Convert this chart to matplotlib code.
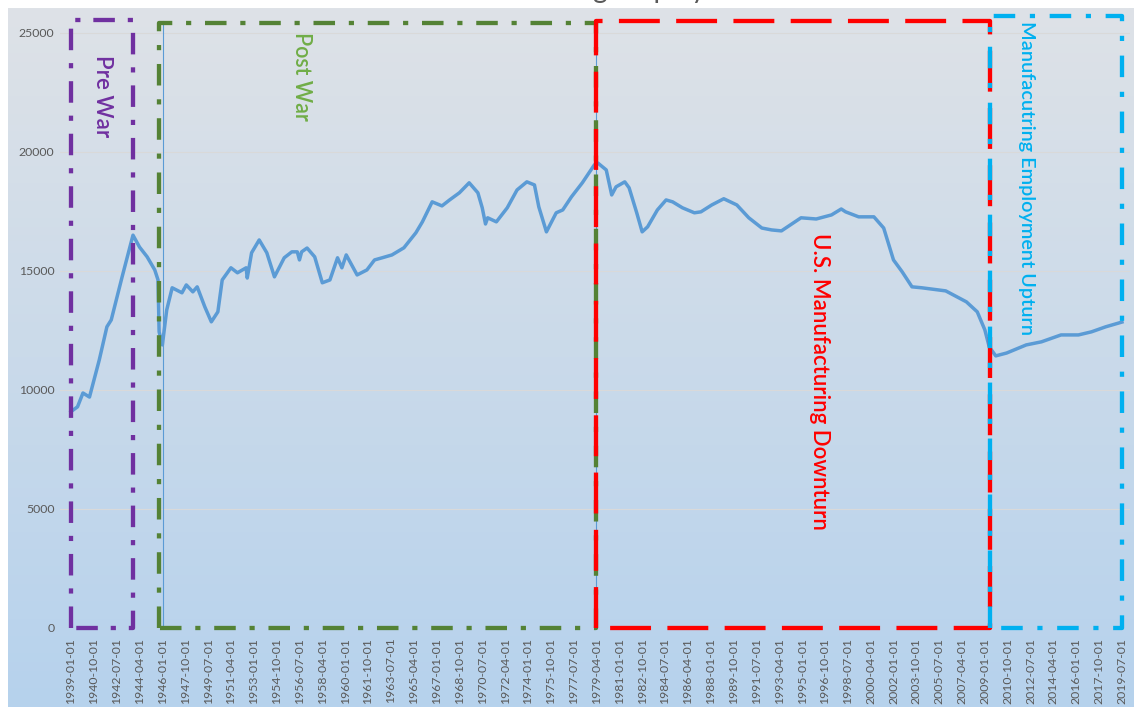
import numpy as np
import matplotlib
matplotlib.use("Agg")
import matplotlib.pyplot as plt

plt.rcParams['font.family'] = ['Lato', 'DejaVu Sans']

# manufacturing employment (thousands) at key months
dates = ["1939-01", "1939-07", "1939-12", "1940-06", "1941-03", "1941-10", "1942-02",
         "1942-12", "1943-10", "1944-04", "1944-11", "1945-06", "1945-09", "1945-10",
         "1946-01", "1946-05", "1946-10", "1947-07", "1947-11", "1948-05", "1948-09",
         "1949-04", "1949-10", "1950-04", "1950-08", "1951-04", "1951-10", "1952-06",
         "1952-07", "1952-11", "1953-06", "1954-01", "1954-08", "1955-05", "1955-12",
         "1956-05", "1956-07", "1956-09", "1957-02", "1957-09", "1958-04", "1958-11",
         "1959-06", "1959-10", "1960-02", "1960-12", "1961-09", "1962-04", "1962-11",
         "1963-08", "1964-07", "1965-06", "1965-12", "1966-09", "1967-06", "1968-01",
         "1968-10", "1969-07", "1970-03", "1970-07", "1970-10", "1970-12", "1971-08",
         "1972-06", "1973-03", "1973-12", "1974-07", "1974-11", "1975-06", "1976-03",
         "1976-09", "1977-05", "1978-03", "1979-02", "1979-05", "1980-01", "1980-06",
         "1980-10", "1981-06", "1981-10", "1982-05", "1982-10", "1983-03", "1983-12",
         "1984-08", "1985-02", "1985-11", "1986-10", "1987-04", "1988-02", "1989-01",
         "1990-01", "1990-12", "1991-12", "1992-09", "1993-06", "1994-12", "1996-02",
         "1997-04", "1998-01", "1998-05", "1999-05", "2000-07", "2001-04", "2002-01",
         "2002-09", "2003-06", "2004-03", "2006-01", "2007-08", "2008-06", "2009-01",
         "2009-05", "2009-11", "2010-09", "2012-03", "2013-05", "2014-11", "2016-03",
         "2017-03", "2018-04", "2019-04", "2019-07"]
employment = [9090, 9290, 9870, 9700, 11260, 12650, 12940,
              14750, 16500, 16000, 15590, 15040, 14620, 12440,
              11890, 13360, 14290, 14080, 14410, 14120, 14330,
              13490, 12860, 13280, 14620, 15130, 14920, 15130,
              14700, 15760, 16300, 15760, 14750, 15550, 15800,
              15800, 15460, 15800, 15960, 15590, 14500, 14620,
              15550, 15130, 15670, 14830, 15040, 15460, 15550,
              15670, 15970, 16600, 17060, 17900, 17730, 17980,
              18280, 18700, 18280, 17650, 16970, 17230, 17060,
              17650, 18400, 18740, 18610, 17690, 16640, 17440,
              17560, 18110, 18700, 19450, 19540, 19240, 18190,
              18530, 18740, 18490, 17440, 16640, 16850, 17560,
              17980, 17900, 17650, 17440, 17480, 17770, 18030,
              17770, 17230, 16800, 16720, 16680, 17230, 17180,
              17350, 17600, 17480, 17270, 17270, 16800, 15460,
              14960, 14330, 14290, 14160, 13700, 13280, 12520,
              11810, 11430, 11550, 11890, 12020, 12310, 12310,
              12440, 12650, 12810, 12850]

first_month = "1939-01"
last_month = "2019-07"
tick_step = 21

era_labels = ["Pre War", "Post War", "U.S. Manufacturing Downturn",
              "Manufacutring Employment Upturn"]
era_start = ["1939-01", "1945-10", "1979-04", "2009-06"]
era_end = ["1943-10", "1979-04", "2009-06", "2019-07"]


def month_index(s):
    y, m = s.split("-")[:2]
    y0, m0 = first_month.split("-")
    return (int(y) - int(y0)) * 12 + int(m) - int(m0)


x = np.array([month_index(d) for d in dates])
n_months = month_index(last_month)

fig = plt.figure(figsize=(11.34, 7.07), dpi=100)

# gradient background
bg = fig.add_axes([8 / 1134, 0, 1 - 8 / 1134, 1 - 8 / 707])
grad = np.linspace(0, 1, 256)[:, None, None]
top = np.array([222, 226, 231]) / 255
bot = np.array([182, 210, 237]) / 255
bg.imshow(top + (bot - top) * grad, aspect='auto', extent=[0, 1, 0, 1])
bg.set_axis_off()

ax = fig.add_axes([60 / 1134, 79 / 707, 1070 / 1134, 619 / 707])
ax.patch.set_alpha(0)
ax.set_xlim(-10.1, n_months + 7.4)
ax.set_ylim(0, 26000)

ax.set_yticks(range(0, 25001, 5000))
ax.yaxis.grid(True, color='#D9D9D9', lw=0.8)
ax.set_axisbelow(True)
ticks = list(range(0, n_months + 1, tick_step))
labels = []
for t in ticks:
    y = 1939 + t // 12
    m = t % 12 + 1
    labels.append(f"{y}-{m:02d}-01")
ax.set_xticks(ticks)
ax.set_xticklabels(labels, rotation=90)
ax.tick_params(length=0, colors='#595959', labelsize=8.8)
ax.tick_params(axis='x', pad=7)
ax.tick_params(axis='y', pad=4)
for sp in ax.spines.values():
    sp.set_visible(False)

ax.plot(x, employment, color='#5B9BD5', lw=2.5, solid_joinstyle='round', zorder=3)

# thin connector lines
for d in ["1946-02", "1979-04"]:
    ax.plot([month_index(d)] * 2, [0, 25500], color='#5B9BD5', lw=0.8,
            zorder=2, clip_on=False)

colors = ['#7030A0', '#548235', '#FF0000', '#00B0F0']
styles = [(0, (5, 3, 1.2, 3)), (0, (5, 3.2, 1.2, 3.2)), (0, (9.5, 3.8)),
          (0, (5, 3.4, 1.2, 3.4))]
tops = [25550, 25420, 25500, 25710]
for i in range(4):
    x0 = month_index(era_start[i])
    x1 = month_index(era_end[i])
    ax.plot([x0, x0, x1, x1, x0], [0, tops[i], tops[i], 0, 0],
            color=colors[i], lw=3.1, ls=styles[i], zorder=4, clip_on=False)

text_colors = ['#7030A0', '#70AD47', '#FF0000', '#00B0F0']
text_x = ["1941-06", "1956-09", "1996-05", "2012-03"]
text_top = [24050, 25050, 16600, 25500]
text_size = [16, 15.5, 16, 14.3]
for i in range(4):
    ax.text(month_index(text_x[i]), text_top[i], era_labels[i], rotation=-90,
            ha='center', va='top', color=text_colors[i], fontsize=text_size[i],
            fontweight='semibold', zorder=5)

# title, cropped by top of image
fig.text(570 / 1134, 1 + 2 / 707, "U.S. Manufacturing Employment",
         ha='center', va='baseline', fontsize=20, color='#595959')

fig.savefig("out.png", dpi=100)
